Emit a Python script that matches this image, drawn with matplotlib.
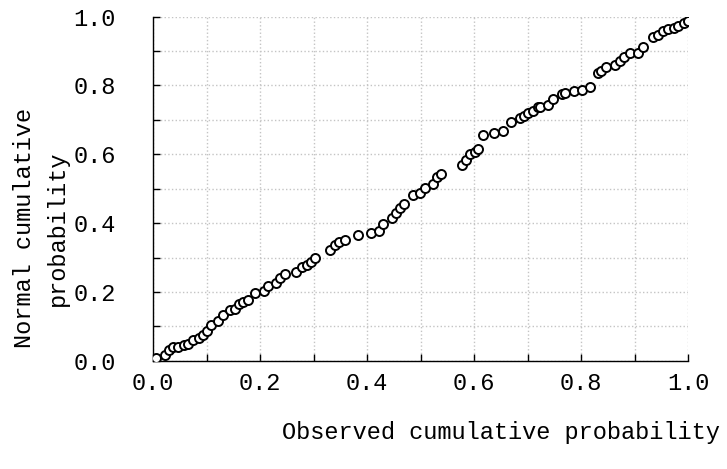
"""
P-P plot: observed vs normal cumulative probability.
"""

import numpy as np
import matplotlib.pyplot as plt
from matplotlib.ticker import MultipleLocator, FormatStrFormatter

# Observed cumulative probability (x) and normal cumulative probability (y)
observed = [
    0.006, 0.022, 0.030, 0.038, 0.047, 0.057, 0.066, 0.075, 0.085, 0.093,
    0.100, 0.108, 0.122, 0.130, 0.144, 0.153, 0.161, 0.169, 0.178, 0.191,
    0.207, 0.215, 0.230, 0.237, 0.247, 0.268, 0.278, 0.287, 0.295, 0.303,
    0.331, 0.340, 0.348, 0.359, 0.384, 0.407, 0.423, 0.429, 0.446, 0.454,
    0.462, 0.469, 0.485, 0.499, 0.508, 0.524, 0.531, 0.538, 0.577, 0.585,
    0.593, 0.601, 0.608, 0.616, 0.637, 0.654, 0.670, 0.686, 0.694, 0.701,
    0.711, 0.720, 0.724, 0.739, 0.747, 0.764, 0.770, 0.786, 0.801, 0.817,
    0.831, 0.837, 0.847, 0.864, 0.873, 0.880, 0.892, 0.907, 0.916, 0.934,
    0.943, 0.954, 0.963, 0.974, 0.982, 0.993, 1.000,
]
normal = [
    0.007, 0.017, 0.031, 0.039, 0.041, 0.046, 0.050, 0.060, 0.065, 0.075,
    0.087, 0.104, 0.115, 0.133, 0.147, 0.150, 0.164, 0.170, 0.176, 0.198,
    0.203, 0.217, 0.227, 0.241, 0.252, 0.259, 0.271, 0.278, 0.288, 0.298,
    0.322, 0.336, 0.346, 0.352, 0.364, 0.372, 0.378, 0.397, 0.414, 0.428,
    0.443, 0.456, 0.481, 0.488, 0.501, 0.514, 0.533, 0.543, 0.569, 0.583,
    0.601, 0.608, 0.614, 0.656, 0.663, 0.669, 0.693, 0.705, 0.711, 0.719,
    0.727, 0.737, 0.738, 0.743, 0.760, 0.775, 0.779, 0.785, 0.787, 0.796,
    0.835, 0.843, 0.853, 0.860, 0.872, 0.882, 0.894, 0.894, 0.913, 0.940,
    0.947, 0.959, 0.963, 0.966, 0.973, 0.983, 0.988,
]

xlabel = 'Observed cumulative probability'
ylabel = 'Normal cumulative\nprobability'

plt.rcParams['font.family'] = ['Liberation Mono', 'DejaVu Sans Mono']
text_color = 'black'
fs = 17

fig = plt.figure(figsize=(7.27, 4.69), dpi=100)
ax = fig.add_axes([0.2105, 0.2309, 0.7359, 0.7335])

ax.plot(observed, normal, linestyle='none', marker='o', markersize=6.5,
        markerfacecolor='white', markeredgecolor='black',
        markeredgewidth=1.4, zorder=3)

ax.set_xlim(0, 1.0)
ax.set_ylim(0, 1.0)

for axis in (ax.xaxis, ax.yaxis):
    axis.set_major_locator(MultipleLocator(0.2))
    axis.set_minor_locator(MultipleLocator(0.1))
    axis.set_major_formatter(FormatStrFormatter('%.1f'))

ax.grid(True, which='both', color='#c4c4c4', linestyle=':', linewidth=1.0)
ax.set_axisbelow(True)

ax.tick_params(which='both', direction='in', length=5, width=1,
               color='black', labelcolor=text_color, labelsize=fs)
ax.tick_params(axis='x', which='major', pad=8)
ax.tick_params(axis='y', which='major', pad=27)

for side in ('top', 'right'):
    ax.spines[side].set_visible(False)
for side in ('left', 'bottom'):
    ax.spines[side].set_color('black')
    ax.spines[side].set_linewidth(1.0)

fig.text(0.689, 0.077, xlabel, ha='center', va='center',
         fontsize=fs, color=text_color)
fig.text(0.056, 0.514, ylabel, ha='center', va='center', rotation=90,
         multialignment='center', linespacing=1.55,
         fontsize=fs, color=text_color)

fig.savefig('out.png', dpi=100)
